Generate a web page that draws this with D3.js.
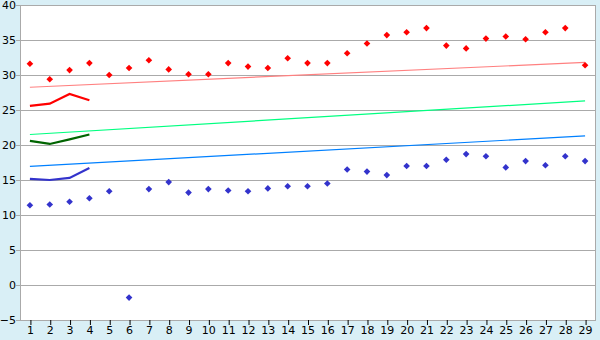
<!DOCTYPE html>
<html>
<head>
<meta charset="utf-8">
<script src="https://cdn.jsdelivr.net/npm/d3@7"></script>
<style>
  body { margin: 0; background: #d9eff6; }
  svg { display: block; font-family: "DejaVu Sans", Verdana, sans-serif; }
</style>
</head>
<body>
<svg id="chart" width="600" height="340"></svg>
<script>
const days = d3.range(1, 30);
const yTicks = [-5, 0, 5, 10, 15, 20, 25, 30, 35, 40];

// daily highs / lows (diamonds)
const highs = [31.6, 29.4, 30.7, 31.7, 30.0, 31.0, 32.1, 30.8, 30.1, 30.1,
               31.7, 31.2, 31.0, 32.4, 31.7, 31.7, 33.1, 34.5, 35.7, 36.1,
               36.7, 34.2, 33.8, 35.2, 35.5, 35.1, 36.1, 36.7, 31.4];
const lows = [11.4, 11.5, 11.9, 12.4, 13.4, -1.8, 13.7, 14.7, 13.2, 13.7,
              13.5, 13.4, 13.8, 14.1, 14.1, 14.5, 16.5, 16.2, 15.7, 17.0,
              17.0, 17.9, 18.7, 18.4, 16.8, 17.7, 17.1, 18.4, 17.7];

// normals (straight lines from day 1 to day 29)
const normalHigh = [28.25, 31.8];
const normalMean = [21.5, 26.3];
const normalLow = [16.95, 21.3];

// short series for the first days
const curHigh = [25.6, 25.9, 27.3, 26.4];
const curMean = [20.6, 20.15, 20.8, 21.5];
const curLow = [15.15, 15.0, 15.3, 16.7];

const svg = d3.select("#chart");
const mLeft = 20, mRight = 595, mTop = 5, mBottom = 320;

const x = d3.scalePoint().domain(days).range([mLeft, mRight]).padding(0.5);
const y = d3.scaleLinear().domain([-5, 40]).range([mBottom, mTop]);

svg.append("rect")
      .attr("x", mLeft).attr("y", mTop)
      .attr("width", mRight - mLeft).attr("height", mBottom - mTop)
      .attr("fill", "#fff");

// horizontal grid
svg.append("g")
      .selectAll("line")
      .data(yTicks)
      .join("line")
      .attr("x1", mLeft - 4).attr("x2", mRight)
      .attr("y1", d => y(d) + 0.5).attr("y2", d => y(d) + 0.5)
      .attr("stroke", "#aaa");

// frame
svg.append("line").attr("x1", mLeft + 0.5).attr("x2", mLeft + 0.5).attr("y1", mTop).attr("y2", mBottom)
      .attr("stroke", "#aaa");
svg.append("line").attr("x1", mRight + 0.5).attr("x2", mRight + 0.5).attr("y1", mTop).attr("y2", mBottom + 1)
      .attr("stroke", "#aaa");

// y labels
svg.append("g")
      .selectAll("text")
      .data(yTicks)
      .join("text")
      .attr("x", 16).attr("y", d => y(d) + 4)
      .attr("text-anchor", "end")
      .attr("font-size", 11)
      .attr("fill", "#000")
      .text(d => d < 0 ? "\u2212" + Math.abs(d) : d);

// x axis
const xAxis = svg.append("g").attr("transform", `translate(0,${mBottom})`)
      .call(d3.axisBottom(x).tickSize(5).tickSizeOuter(0));
xAxis.select(".domain").remove();
xAxis.selectAll(".tick line").attr("stroke", "#000").attr("transform", "translate(0.5,0)");
xAxis.selectAll(".tick text").attr("font-family", "DejaVu Sans, Verdana, sans-serif")
      .attr("font-size", 11).attr("dy", "0.65em").attr("y", 7);

const line = d3.line().x((d, i) => x(days[i])).y(d => y(d));
const trend = ends => d3.line()([[x(1), y(ends[0])], [x(29), y(ends[1])]]);

[[normalHigh, "#ff8080"], [normalMean, "#00ff80"], [normalLow, "#0080ff"]].forEach(([v, c]) => {
      svg.append("path").attr("d", trend(v)).attr("fill", "none").attr("stroke", c).attr("stroke-width", 1.2);
});

[[curHigh, "#ff0000"], [curMean, "#006400"], [curLow, "#3333cc"]].forEach(([v, c]) => {
      svg.append("path").attr("d", line(v)).attr("fill", "none").attr("stroke", c).attr("stroke-width", 2.2);
});

// square turned 45deg, looks like the original's plus-diamond
const diamond = d3.symbol().type(d3.symbolSquare).size(22);

svg.append("g").selectAll("path")
      .data(highs)
      .join("path")
      .attr("d", diamond)
      .attr("transform", (d, i) => `translate(${x(days[i])},${y(d)}) rotate(45)`)
      .attr("fill", "#ff0000");

svg.append("g").selectAll("path")
      .data(lows)
      .join("path")
      .attr("d", diamond)
      .attr("transform", (d, i) => `translate(${x(days[i])},${y(d)}) rotate(45)`)
      .attr("fill", "#3333cc");
</script>
</body>
</html>
